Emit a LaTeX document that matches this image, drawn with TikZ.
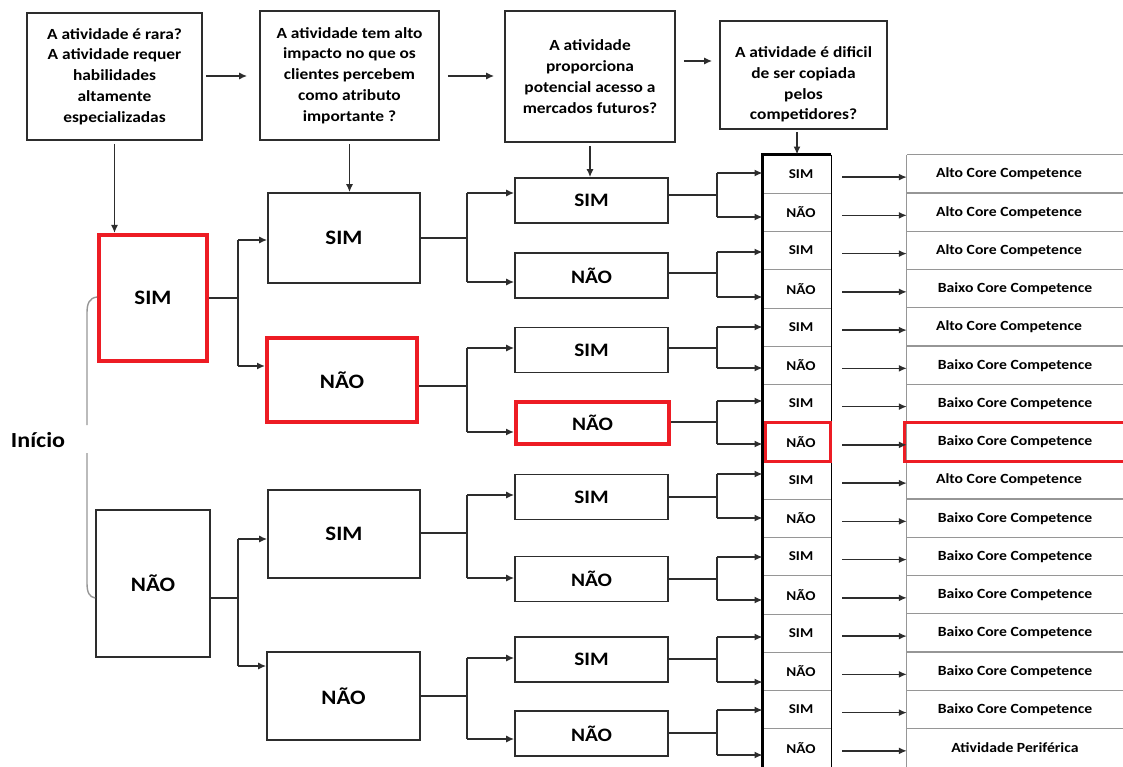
\documentclass[tikz,border=0pt]{standalone}
\usepackage{fontspec}
\setmainfont[FakeStretch=1.12]{Carlito}
\usetikzlibrary{arrows.meta}

\definecolor{hl}{RGB}{237,28,36}
\definecolor{ln}{RGB}{45,45,45}
\definecolor{grid}{RGB}{150,150,150}

\tikzset{
  box/.style={draw=ln, line width=1.6pt, align=center, inner sep=0pt},
  qbox/.style={box, font=\bfseries\fontsize{15.5}{20.8}\selectfont},
  bigbox/.style={box, font=\bfseries\fontsize{20.5}{24}\selectfont},
  midbox/.style={box, font=\bfseries\fontsize{19}{22}\selectfont,
    minimum width=153pt, minimum height=45pt},
  hilite/.style={draw=hl, line width=4pt},
  cell/.style={draw=grid, line width=0.8pt, inner sep=0pt,
    minimum width=68pt, minimum height=38.25pt,
    font=\bfseries\fontsize{13.5}{15}\selectfont},
  res/.style={inner sep=0pt, minimum width=216pt, minimum height=38.25pt,
    font=\bfseries\fontsize{14}{16}\selectfont},
  conn/.style={draw=ln, line width=1.5pt},
  arr/.style={conn, -{Latex[length=8pt,width=7pt]}},
}

% parent, exit y, junction x, upper child, its y, lower child, its y
\newcommand\splitto[7]{%
  \draw[conn] (#1.east |- 0,#2) -- (#3,#2);
  \draw[conn] (#3,#5) -- (#3,#7);
  \draw[arr] (#3,#5) -- (#4.west |- 0,#5);
  \draw[arr] (#3,#7) -- (#6.west |- 0,#7);
}
% "Alto" labels sit a little left of the column centre
\newcommand\alto{\hspace*{-12pt}Alto Core Competence}

\begin{document}
\begin{tikzpicture}[x=1pt,y=-1pt]
\useasboundingbox (0,0) rectangle (1123,767);

% questions
\node[qbox, minimum width=175pt, minimum height=127pt] (q1) at (114.5,76.5)
  {A atividade é rara?\\A atividade requer\\habilidades\\altamente\\especializadas};
\node[qbox, minimum width=179pt, minimum height=129pt] (q2) at (349.5,75.5)
  {A atividade tem alto\\impacto no que os\\clientes percebem\\como atributo\\importante ?};
\node[qbox, minimum width=170pt, minimum height=131pt] (q3) at (590,76.5)
  {A atividade\\proporciona\\potencial acesso a\\mercados futuros?};
\node[qbox, minimum width=167pt, minimum height=108pt] (q4) at (803.5,75)
  {\rule{0pt}{30pt}A atividade é dificil\\de ser copiada\\pelos\\competidores?};

\draw[arr, shorten <=3pt, shorten >=12pt] (q1.east |- 0,76) -- (q2.west |- 0,76);
\draw[arr, shorten <=8pt, shorten >=10pt] (q2.east |- 0,76) -- (q3.west |- 0,76);
\draw[arr, shorten <=8pt, shorten >=7pt] (q3.east |- 0,61) -- (q4.west |- 0,61);

% first answer
\node[bigbox, hilite, minimum width=108pt, minimum height=126pt] (s1) at (153,298) {SIM};
\node[bigbox, minimum width=114pt, minimum height=147pt] (n1) at (153,583.5) {NÃO};

% second answer
\node[bigbox, minimum width=152pt, minimum height=90pt] (b1) at (344,238) {SIM};
\node[bigbox, hilite, minimum width=150pt, minimum height=84pt] (b2) at (342,380) {NÃO};
\node[bigbox, minimum width=152pt, minimum height=88pt] (b3) at (344,534) {SIM};
\node[bigbox, minimum width=153pt, minimum height=88pt] (b4) at (343.5,696) {NÃO};

% third answer
\node[midbox] (c1) at (591.5,200.5) {SIM};
\node[midbox] (c2) at (591.5,275.5) {NÃO};
\node[midbox] (c3) at (591.5,350) {SIM};
\node[midbox, hilite, minimum width=153pt, minimum height=42pt] (c4) at (592.5,423) {NÃO};
\node[midbox] (c5) at (591.5,497) {SIM};
\node[midbox] (c6) at (591.5,579) {NÃO};
\node[midbox] (c7) at (591.5,659.5) {SIM};
\node[midbox] (c8) at (591.5,733.5) {NÃO};

% fourth answer column
\foreach \t [count=\i] in {SIM,NÃO,SIM,NÃO,SIM,NÃO,SIM,NÃO,SIM,NÃO,SIM,NÃO,SIM,NÃO,SIM,NÃO}
  \node[cell] (d\i) at (797,{174.1+38.25*(\i-1)}) {\hspace*{8pt}\t};
\draw[black, line width=2.6pt] (d1.north east) -- (d1.north west) -- (d16.south west);
\draw[black, line width=1.4pt] (d1.north east) -- (d16.south east);
\draw[hl, line width=3pt] ([xshift=3pt]d8.north west) rectangle ([xshift=-1pt]d8.south east);

% results
\foreach \t [count=\i] in {\alto,\alto,\alto,
    Baixo Core Competence,\alto,Baixo Core Competence,Baixo Core Competence,
    Baixo Core Competence,\alto,Baixo Core Competence,Baixo Core Competence,
    Baixo Core Competence,Baixo Core Competence,Baixo Core Competence,Baixo Core Competence,
    Atividade Periférica}
  \node[res] (e\i) at (1015,{174.1+38.25*(\i-1)}) {\t};
\foreach \i in {1,...,16}
  \draw[grid, line width=1.2pt] (e\i.north west) -- (e\i.north east);
\draw[grid, line width=1.2pt] (e1.north west) -- (e16.south west);
\draw[hl, line width=3pt] (e8.north east) -- ([xshift=-2pt]e8.north west)
  -- ([xshift=-2pt]e8.south west) -- (e8.south east);
\foreach \i in {1,...,16}
  \draw[arr, shorten <=11pt] ([yshift=-3pt]d\i.east) -- ([yshift=-3pt]e\i.west);

% question arrows down
\draw[arr, shorten <=3pt] (q1.south) -- (q1.south |- s1.north);
\draw[arr, shorten <=3pt] (q2.south) -- (q2.south |- b1.north);
\draw[arr, shorten <=3pt] (q3.south) -- (q3.south |- c1.north);
\draw[arr, shorten <=2pt] (q4.south -| d1.north) -- (d1.north);

% branches
\splitto{s1}{298}{238}{b1}{240}{b2}{366}
\splitto{n1}{598}{238}{b3}{539}{b4}{666}
\splitto{b1}{238}{467}{c1}{193}{c2}{282}
\splitto{b2}{386}{467}{c3}{348}{c4}{432}
\splitto{b3}{533}{467}{c5}{495}{c6}{578}
\splitto{b4}{696}{467}{c7}{658}{c8}{739}
\splitto{c1}{195}{717}{d1}{173}{d2}{217}
\splitto{c2}{273}{717}{d3}{252}{d4}{297}
\splitto{c3}{348}{717}{d5}{327}{d6}{368}
\splitto{c4}{422}{717}{d7}{401}{d8}{444}
\splitto{c5}{497}{717}{d9}{474}{d10}{518}
\splitto{c6}{579}{717}{d11}{557}{d12}{600}
\splitto{c7}{659}{717}{d13}{637}{d14}{682}
\splitto{c8}{733}{717}{d15}{710}{d16}{755}

% start bracket
\node[font=\bfseries\fontsize{21.5}{24}\selectfont] (ini) at (38,440) {Início};
\draw[grid, line width=1.4pt] (s1.west |- 0,297) .. controls (89,298) and (87,304) .. (87,313) -- (87,425);
\draw[grid, line width=1.4pt] (87,453) -- (87,583) .. controls (87,592) and (89,597) .. (n1.west |- 0,598);
\end{tikzpicture}
\end{document}
